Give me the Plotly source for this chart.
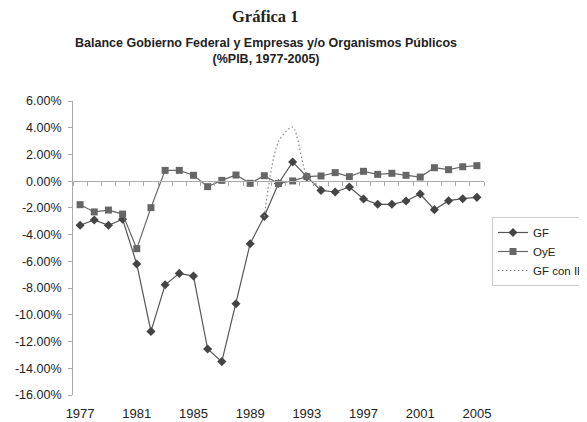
import plotly.graph_objects as go

# datos (%PIB)
years = list(range(1977, 2006))
gf = [-3.3, -2.9, -3.3, -2.85, -6.2, -11.24, -7.75, -6.9, -7.1, -12.56, -13.5, -9.17,
      -4.68, -2.63, -0.17, 1.44, 0.32, -0.69, -0.81, -0.43, -1.33, -1.73, -1.73, -1.48,
      -0.96, -2.13, -1.46, -1.31, -1.21]
oye = [-1.76, -2.3, -2.16, -2.46, -5.05, -1.98, 0.81, 0.81, 0.44, -0.41, 0.06, 0.46,
       -0.16, 0.41, -0.17, 0.02, 0.34, 0.39, 0.64, 0.34, 0.74, 0.51, 0.59, 0.44,
       0.31, 1.01, 0.86, 1.08, 1.16]
gf_ie_years = [1990, 1991, 1992, 1993, 1994]
gf_ie = [-2.63, 2.95, 4.05, 0.45, -0.45]

y_ticks = [6, 4, 2, 0, -2, -4, -6, -8, -10, -12, -14, -16]
y_labels = ['6.00%', '4.00%', '2.00%', '0.00%', '-2.00%', '-4.00%', '-6.00%',
            '-8.00%', '-10.00%', '-12.00%', '-14.00%', '-16.00%']
x_ticks = [1977, 1981, 1985, 1989, 1993, 1997, 2001, 2005]

# la página añade 8px de margen al body: la figura se dibuja 8px más pequeña
W, H = 579, 414

fig = go.Figure()
fig.add_trace(go.Scatter(x=years, y=gf, name='GF', mode='lines+markers',
                         line=dict(color='#555555', width=1.2),
                         marker=dict(symbol='diamond', size=7, color='#444444')))
fig.add_trace(go.Scatter(x=years, y=oye, name='OyE', mode='lines+markers',
                         line=dict(color='#666666', width=1.2),
                         marker=dict(symbol='square', size=7, color='#666666')))
fig.add_trace(go.Scatter(x=gf_ie_years, y=gf_ie, name='GF con IE', mode='lines',
                         line=dict(color='#888888', width=1.2, dash='1.5px,2.5px',
                                   shape='spline', smoothing=0.8)))

# eje de categorías en el cero (marcas entre años)
fig.add_trace(go.Scatter(x=[years[0]], y=[None], xaxis='x2', showlegend=False,
                         hoverinfo='skip'))

fig.update_layout(
    width=W, height=H,
    paper_bgcolor='white', plot_bgcolor='white',
    margin=dict(l=65, r=103, t=93, b=27, autoexpand=False),
    font=dict(family='Liberation Sans, Arial', color='#222222'),
    annotations=[
        dict(text='<b>Gráfica 1</b>', xref='paper', yref='paper',
             x=(257 - 65) / 411, y=1 + (93 - 8) / 294,
             xanchor='center', yanchor='middle', showarrow=False,
             font=dict(family='Liberation Serif, Times New Roman',
                       size=16.5, color='#222222')),
        dict(text='<b>Balance Gobierno Federal y Empresas y/o Organismos Públicos'
                  '<br>(%PIB, 1977-2005)</b>', xref='paper', yref='paper',
             x=(258 - 65) / 411, y=1 + (93 - 43) / 294,
             xanchor='center', yanchor='middle', showarrow=False,
             font=dict(size=12.5, color='#222222')),
    ],
    xaxis=dict(range=[1976.5, 2005.5], tickvals=x_ticks, showline=False,
               showgrid=False, zeroline=False, ticks='', ticklabelstandoff=9,
               tickfont=dict(size=13, color='#222222')),
    xaxis2=dict(range=[1976.5, 2005.5], overlaying='x', anchor='free',
                position=16 / 22, showline=True, linecolor='#aaaaaa', linewidth=1,
                ticks='outside', ticklen=4, tickcolor='#aaaaaa',
                tickvals=[y - 0.5 for y in years] + [2005.5],
                showticklabels=False, showgrid=False, zeroline=False, side='bottom'),
    yaxis=dict(range=[-16, 6], tickvals=y_ticks, ticktext=y_labels,
               showline=True, linecolor='#aaaaaa', linewidth=1, ticks='outside',
               ticklen=4, tickcolor='#aaaaaa', showgrid=False, zeroline=False,
               ticklabelstandoff=4, tickfont=dict(size=12.5, color='#222222')),
    legend=dict(x=(484 - 65) / 411, y=(387 - 209) / 294, xanchor='left', yanchor='top',
                bordercolor='#cccccc', borderwidth=1, bgcolor='white',
                font=dict(size=11.5, color='#222222'), itemwidth=30,
                tracegroupgap=0),
)

fig.write_html("out.html")
